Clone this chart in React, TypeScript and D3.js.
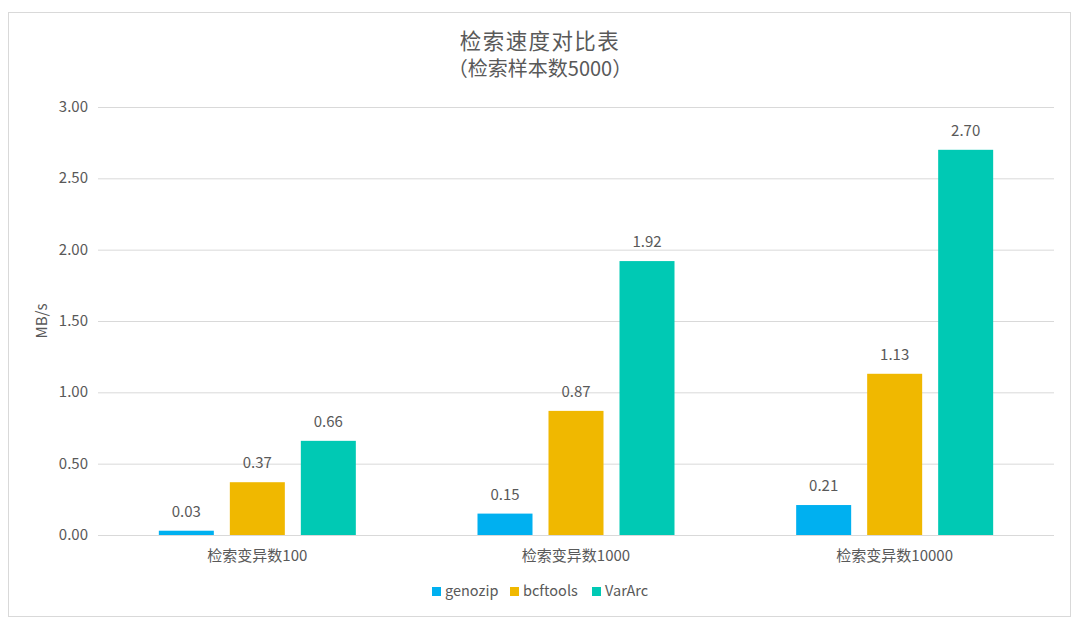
import { useEffect, useRef } from 'react'
import * as d3 from 'd3'

// ── Chart data ─────────────────────────────────────────────
const CATEGORIES = ['检索变异数100', '检索变异数1000', '检索变异数10000']
const SERIES = ['genozip', 'bcftools', 'VarArc']
const GENOZIP = [0.03, 0.15, 0.21]
const BCFTOOLS = [0.37, 0.87, 1.13]
const VARARC = [0.66, 1.92, 2.7]
const Y_TICKS = [0, 0.5, 1, 1.5, 2, 2.5, 3]
const COLORS = ['#00b0f0', '#f0b800', '#00c9b4']
const TITLE = ['检索速度对比表', '（检索样本数5000）']
const Y_LABEL = 'MB/s'

const W = 1080, H = 623
const FONT = '"Noto Sans CJK SC", "Noto Sans", sans-serif'
const TEXT = '#595959'

export default function App() {
  const svgRef = useRef<SVGSVGElement>(null)

  useEffect(() => {
    const svg = d3.select(svgRef.current)
    svg.selectAll('*').remove()
    const values = [GENOZIP, BCFTOOLS, VARARC]

    const left = 98, right = 1054, top = 107, bottom = 535

    svg.append('rect').attr('width', W).attr('height', H).attr('fill', '#fff')
    // outer frame
    svg.append('rect').attr('x', 8.5).attr('y', 12.5).attr('width', 1062).attr('height', 604)
      .attr('fill', '#fff').attr('stroke', '#d9d9d9').attr('stroke-width', 1)

    // titles
    svg.append('text').attr('x', 540).attr('y', 48.5)
      .attr('text-anchor', 'middle').attr('font-family', FONT).attr('font-size', 21.5)
      .attr('letter-spacing', 1.4).attr('fill', TEXT).text(TITLE[0])
    svg.append('text').attr('x', 540).attr('y', 76)
      .attr('text-anchor', 'middle').attr('font-family', FONT).attr('font-size', 20)
      .attr('fill', TEXT).text(TITLE[1])

    const y = d3.scaleLinear().domain([0, 3]).range([bottom, top])
    const x0 = d3.scaleBand().domain(CATEGORIES).range([left, right])

    // gridlines + tick labels
    Y_TICKS.forEach((v) => {
      svg.append('line').attr('x1', left).attr('x2', right)
        .attr('y1', y(v) + 0.5).attr('y2', y(v) + 0.5)
        .attr('stroke', '#d9d9d9').attr('stroke-width', 1)
      svg.append('text').attr('x', 88).attr('y', y(v) + 5)
        .attr('text-anchor', 'end').attr('font-family', FONT).attr('font-size', 15)
        .attr('fill', TEXT).text(d3.format('.2f')(v))
    })

    // y axis label
    svg.append('text').attr('transform', `translate(47, ${(top + bottom) / 2}) rotate(-90)`)
      .attr('text-anchor', 'middle').attr('font-family', FONT).attr('font-size', 15)
      .attr('fill', TEXT).text(Y_LABEL)

    // bars
    CATEGORIES.forEach((cat, ci) => {
      const c = x0(cat)! + x0.bandwidth() / 2
      const x1 = d3.scaleBand().domain(SERIES).range([c - 98.5, c + 98.5]).paddingInner(16 / 71)
      SERIES.forEach((s, si) => {
        const v = values[si][ci]
        svg.append('rect').attr('x', x1(s)!).attr('y', y(v))
          .attr('width', x1.bandwidth()).attr('height', y(0) - y(v))
          .attr('fill', COLORS[si])
        svg.append('text').attr('x', x1(s)! + x1.bandwidth() / 2).attr('y', y(v) - 14)
          .attr('text-anchor', 'middle').attr('font-family', FONT).attr('font-size', 15)
          .attr('fill', TEXT).text(d3.format('.2f')(v))
      })
      svg.append('text').attr('x', c).attr('y', 561)
        .attr('text-anchor', 'middle').attr('font-family', FONT).attr('font-size', 15)
        .attr('fill', TEXT).text(cat)
    })

    // legend
    const legendX = [432, 510, 592]
    SERIES.forEach((s, i) => {
      svg.append('rect').attr('x', legendX[i]).attr('y', 587).attr('width', 9).attr('height', 9)
        .attr('fill', COLORS[i])
      svg.append('text').attr('x', legendX[i] + 13).attr('y', 596)
        .attr('font-family', FONT).attr('font-size', 14.5).attr('fill', TEXT).text(s)
    })
  }, [])

  return (
    <div style={{ position: 'absolute', left: 0, top: 0 }}>
      <svg ref={svgRef} width={W} height={H} style={{ display: 'block' }} />
    </div>
  )
}
